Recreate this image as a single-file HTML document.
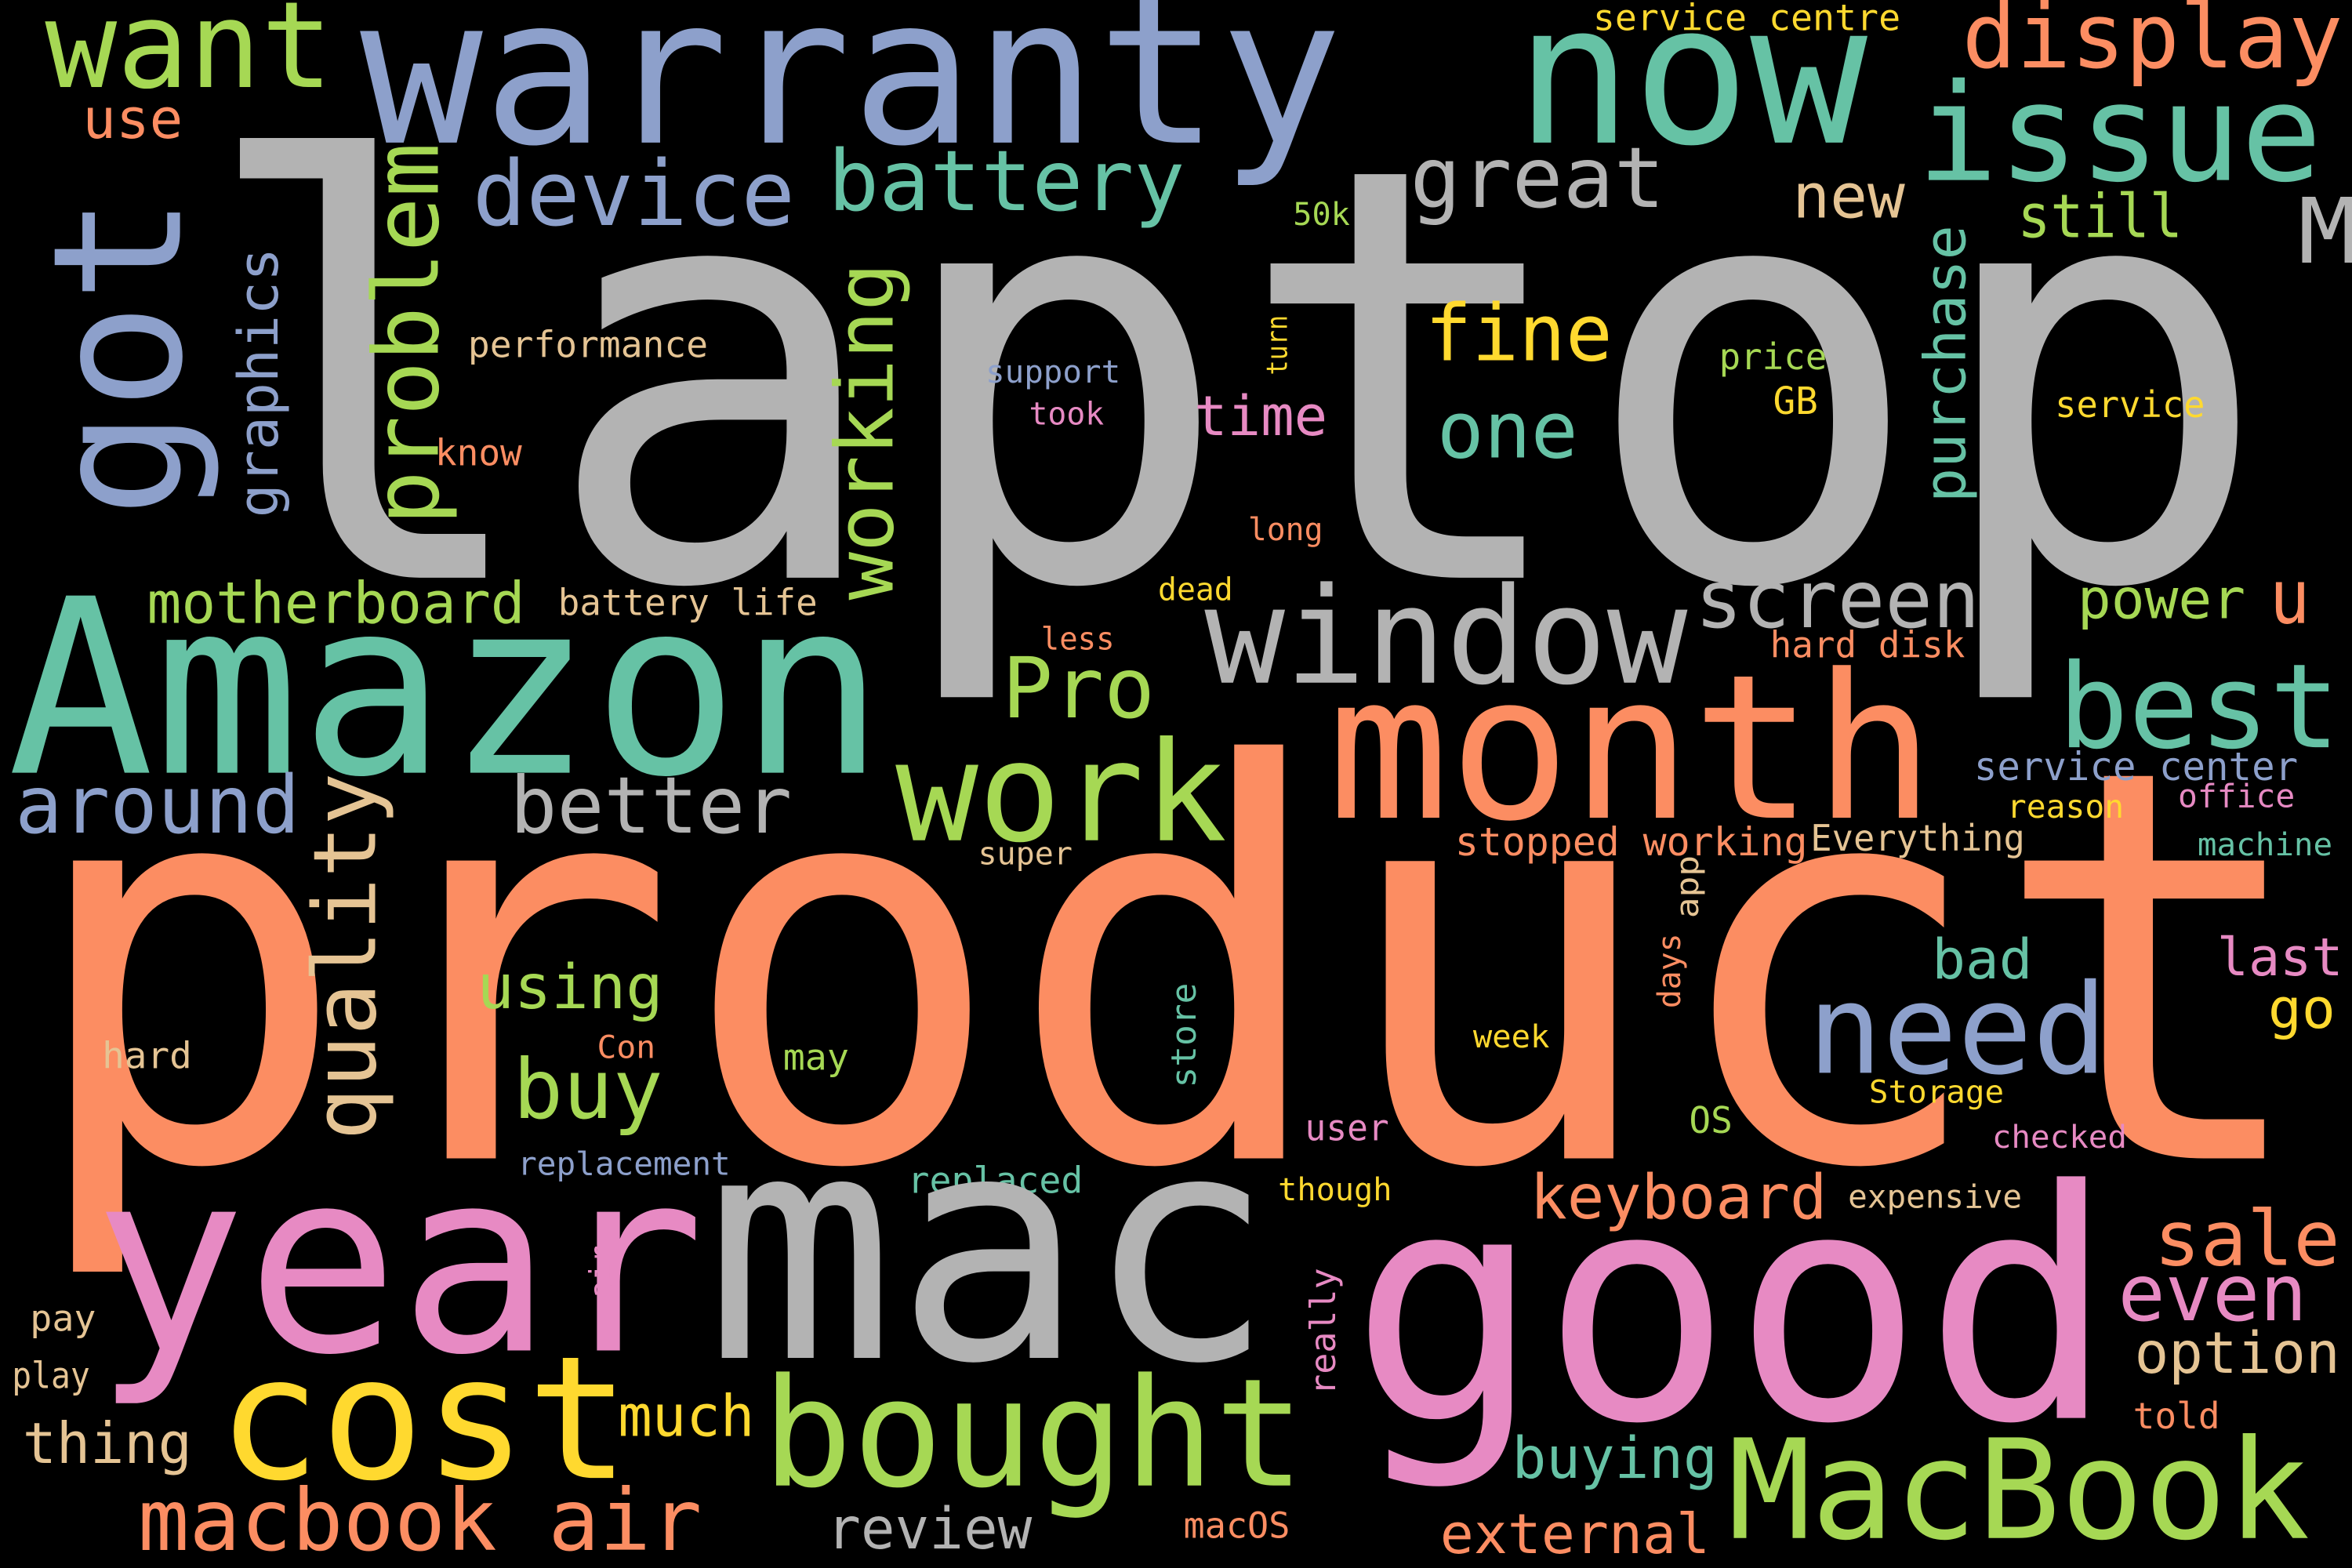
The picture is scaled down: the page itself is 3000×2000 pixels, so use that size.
<!DOCTYPE html>
<html><head><meta charset="utf-8"><style>
html,body{margin:0;padding:0;background:#000;}
svg{display:block;}
text{font-family:"DejaVu Sans Mono","Liberation Mono",monospace;}
</style></head><body>
<svg id="cloud" width="3000" height="2000" viewBox="0 0 1568 1045" preserveAspectRatio="none" xmlns="http://www.w3.org/2000/svg">
<rect width="1568" height="1045" fill="#000"/>
</svg>
<script>
const words = ["laptop","product","Amazon","warranty","now","display","issue","want","use","service centre","device","battery","great","new","still","M","50k","performance","fine","support","took","time","price","GB","service","one","know","long","motherboard","battery life","dead","window","screen","power","u","less","hard disk","Pro","best","month","work","around","better","service center","reason","office","stopped working","Everything","machine","super","bad","last","go","need","using","buy","hard","Con","may","week","Storage","OS","user","checked","replacement","replaced","though","expensive","keyboard","year","mac","good","sale","even","option","told","pay","play","cost","much","bought","buying","MacBook","thing","macbook air","review","macOS","external"];
const xs = [130,15,5,240,1010,1308,1278,30,55,1062,315,552,940,1195,1345,1532,862,312,950,657,686,796,1146,1182,1370,958,290,832,98,372,772,803,1130,1385,1513,694,1180,668,1372,885,597,10,340,1316,1338,1452,970,1207,1465,652,1288,1478,1512,1205,318,342,68,398,522,982,1246,1126,870,1328,345,605,852,1232,1020,62,470,900,1436,1412,1423,1422,20,8,145,412,508,1008,1152,15,92,551,789,960];
const ys = [385,772,515,95,95,45,120,58,92,20,150,140,138,145,158,175,150,238,240,255,283,290,246,276,278,305,310,360,415,410,400,455,418,412,415,433,438,478,498,545,560,555,555,520,545,538,570,567,570,576,652,650,685,715,672,745,712,705,713,698,735,755,760,765,783,795,800,805,812,900,905,945,843,880,915,952,887,925,985,957,990,985,1025,975,1033,1032,1025,1035];
const widths = [1385,1530,585,655,235,254,270,192,67,205,215,238,170,75,110,40,38,160,125,90,50,89,72,30,100,94,58,50,252,173,50,322,190,112,27,49,130,102,188,405,221,190,188,216,78,78,235,143,90,63,67,84,45,200,124,100,60,39,44,51,90,29,56,90,142,117,76,116,198,408,380,510,124,126,137,58,44,52,275,91,362,137,388,113,376,137,71,180];
const sizes = [383,363,162,136,130,60,90,80,37,24,60,56,56,41,40,60,21,24,52,21,21,37,24,25,24,52,24,21,38,24,21,89,53,37,50,21,24,56,78,134,92,53,52,26,21.6,21.6,26,24,21,21,37,35,37,83,41,55,24,21,24,21,21,24,24,21,21.4,24,21,21.4,41,169,210,212,51,52,38,24,24,24,114,38,100,38,92,37.5,57,38,23.6,37];
const colors = ["#b3b3b3","#fc8d62","#66c2a5","#8da0cb","#66c2a5","#fc8d62","#66c2a5","#a6d854","#fc8d62","#ffd92f","#8da0cb","#66c2a5","#b3b3b3","#e5c494","#a6d854","#b3b3b3","#a6d854","#e5c494","#ffd92f","#8da0cb","#e78ac3","#e78ac3","#a6d854","#ffd92f","#ffd92f","#66c2a5","#fc8d62","#fc8d62","#a6d854","#e5c494","#ffd92f","#b3b3b3","#b3b3b3","#a6d854","#fc8d62","#fc8d62","#fc8d62","#a6d854","#66c2a5","#fc8d62","#a6d854","#8da0cb","#b3b3b3","#8da0cb","#ffd92f","#e78ac3","#fc8d62","#e5c494","#66c2a5","#e5c494","#66c2a5","#e78ac3","#ffd92f","#8da0cb","#a6d854","#a6d854","#e5c494","#fc8d62","#a6d854","#ffd92f","#ffd92f","#a6d854","#e78ac3","#e78ac3","#8da0cb","#66c2a5","#ffd92f","#e5c494","#fc8d62","#e78ac3","#b3b3b3","#e78ac3","#fc8d62","#e78ac3","#e5c494","#fc8d62","#e5c494","#e5c494","#ffd92f","#ffd92f","#a6d854","#66c2a5","#a6d854","#e5c494","#fc8d62","#b3b3b3","#fc8d62","#fc8d62"];
// vertical words (read bottom-to-top)
const vWords = ["got","graphics","problem","purchase","working","quality","turn","app","days","store","air","really"];
const vBaseX = [120,185,292,1310,595,250,858,1132,1120,797,408,890];
const vBottomY = [345,345,350,335,400,760,250,612,672,725,865,930];
const vLengths = [215,180,255,185,225,245,40,42,50,70,35,85];
const vSizes = [119,37,60,38,53,58,19,21,21,23,21,23.5];
const vColors = ["#8da0cb","#8da0cb","#a6d854","#66c2a5","#a6d854","#e5c494","#ffd92f","#e5c494","#fc8d62","#66c2a5","#e78ac3","#e78ac3"];

const svg = document.getElementById('cloud');
const NS = 'http://www.w3.org/2000/svg';
function slug(s){return s.toLowerCase().replace(/[^a-z0-9]+/g,'-');}
for (let i=0;i<words.length;i++){
  const t = document.createElementNS(NS,'text');
  t.setAttribute('x', xs[i]);
  t.setAttribute('y', ys[i]);
  t.setAttribute('font-size', sizes[i]);
  t.setAttribute('fill', colors[i]);
  t.setAttribute('textLength', widths[i]);
  t.setAttribute('lengthAdjust', 'spacingAndGlyphs');
  t.textContent = words[i];
  
  
  svg.appendChild(t);
}
for (let i=0;i<vWords.length;i++){
  const t = document.createElementNS(NS,'text');
  t.setAttribute('x', 0);
  t.setAttribute('y', 0);
  t.setAttribute('transform', 'translate(' + vBaseX[i] + ',' + vBottomY[i] + ') rotate(-90)');
  t.setAttribute('font-size', vSizes[i]);
  t.setAttribute('fill', vColors[i]);
  t.setAttribute('textLength', vLengths[i]);
  t.setAttribute('lengthAdjust', 'spacingAndGlyphs');
  t.textContent = vWords[i];
  
  
  svg.appendChild(t);
}
</script>
</body></html>
